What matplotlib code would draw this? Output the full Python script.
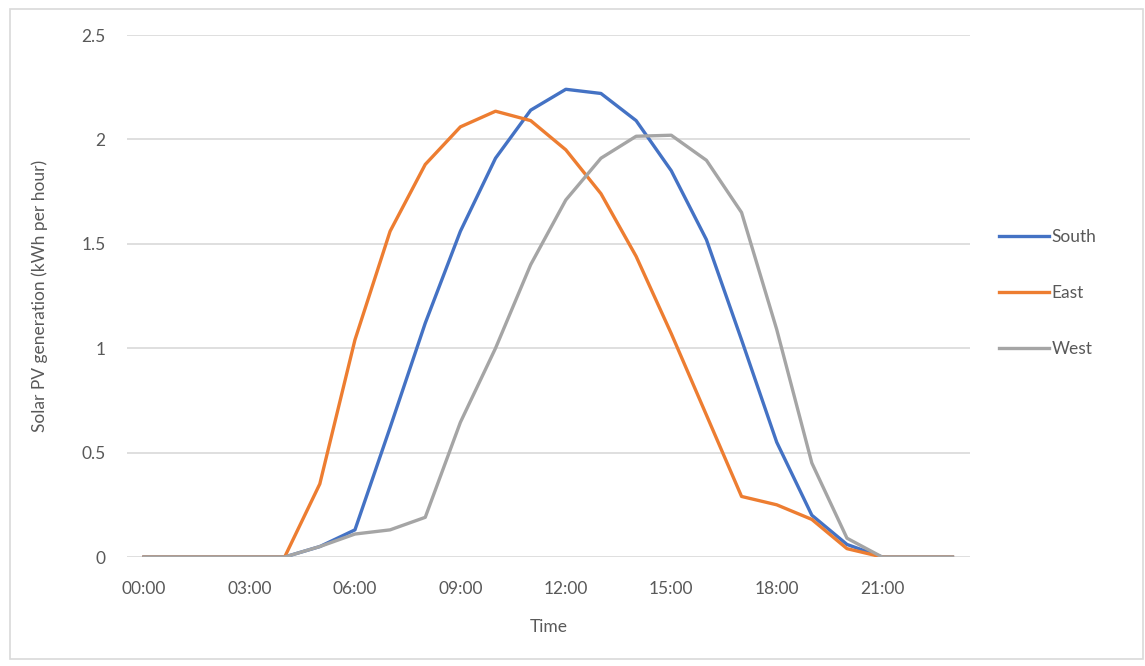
import matplotlib
matplotlib.use("Agg")
import matplotlib.pyplot as plt
from matplotlib.patches import Rectangle

hours = [f"{h:02d}:00" for h in range(24)]
south = [0, 0, 0, 0, 0, 0.05, 0.13, 0.62, 1.12, 1.56, 1.91, 2.14, 2.24, 2.22,
         2.09, 1.85, 1.52, 1.04, 0.55, 0.20, 0.06, 0, 0, 0]
east = [0, 0, 0, 0, 0, 0.35, 1.04, 1.56, 1.88, 2.06, 2.135, 2.09, 1.95, 1.74,
        1.44, 1.07, 0.68, 0.29, 0.25, 0.18, 0.04, 0, 0, 0]
west = [0, 0, 0, 0, 0, 0.05, 0.11, 0.13, 0.19, 0.645, 1.0, 1.40, 1.71, 1.91,
        2.015, 2.02, 1.90, 1.65, 1.09, 0.45, 0.09, 0, 0, 0]
yticks = [0, 0.5, 1, 1.5, 2, 2.5]
ytick_labels = ["0", "0.5", "1", "1.5", "2", "2.5"]
xtick_idx = list(range(0, 24, 3))

plt.rcParams['font.family'] = ['Lato', 'DejaVu Sans']
txt = '#595959'
fs = 12.5

fig = plt.figure(figsize=(11.45, 6.66), dpi=100)
fig.patches.append(Rectangle((10/1145, 1-659/666), 1133/1145, 650/666,
                             transform=fig.transFigure, fill=False,
                             edgecolor='#D9D9D9', lw=1.2))
ax = fig.add_axes([126.5/1145, 1-557/666, (970-126.5)/1145, (557-35)/666])
x = list(range(24))
l1, = ax.plot(x, south, color='#4472C4', lw=2.4, label='South', solid_joinstyle='round')
l2, = ax.plot(x, east, color='#ED7D31', lw=2.4, label='East', solid_joinstyle='round')
l3, = ax.plot(x, west, color='#A5A5A5', lw=2.4, label='West', solid_joinstyle='round')

ax.set_xlim(-0.5, 23.5)
ax.set_ylim(0, 2.5)
ax.set_yticks(yticks)
ax.set_yticklabels(ytick_labels)
ax.set_xticks(xtick_idx)
ax.set_xticklabels([hours[i] for i in xtick_idx])
ax.grid(axis='y', color='#D9D9D9', lw=1.2)
ax.set_axisbelow(True)
for s in ax.spines.values():
    s.set_visible(False)
ax.tick_params(axis='both', length=0, labelsize=fs, colors=txt)
ax.tick_params(axis='y', pad=15)
ax.tick_params(axis='x', pad=17)
ax.set_xlabel('Time', fontsize=fs, color=txt, labelpad=16)
ax.set_ylabel('Solar PV generation (kWh per hour)', fontsize=fs, color=txt, labelpad=24)

fig.legend(handles=[l1, l2, l3], loc='center left',
           bbox_to_anchor=(983/1145, 1-293/666), frameon=False,
           fontsize=fs, handlelength=2.9, handletextpad=0.15,
           labelspacing=2.3, labelcolor=txt)

fig.savefig('out.png', dpi=100)
